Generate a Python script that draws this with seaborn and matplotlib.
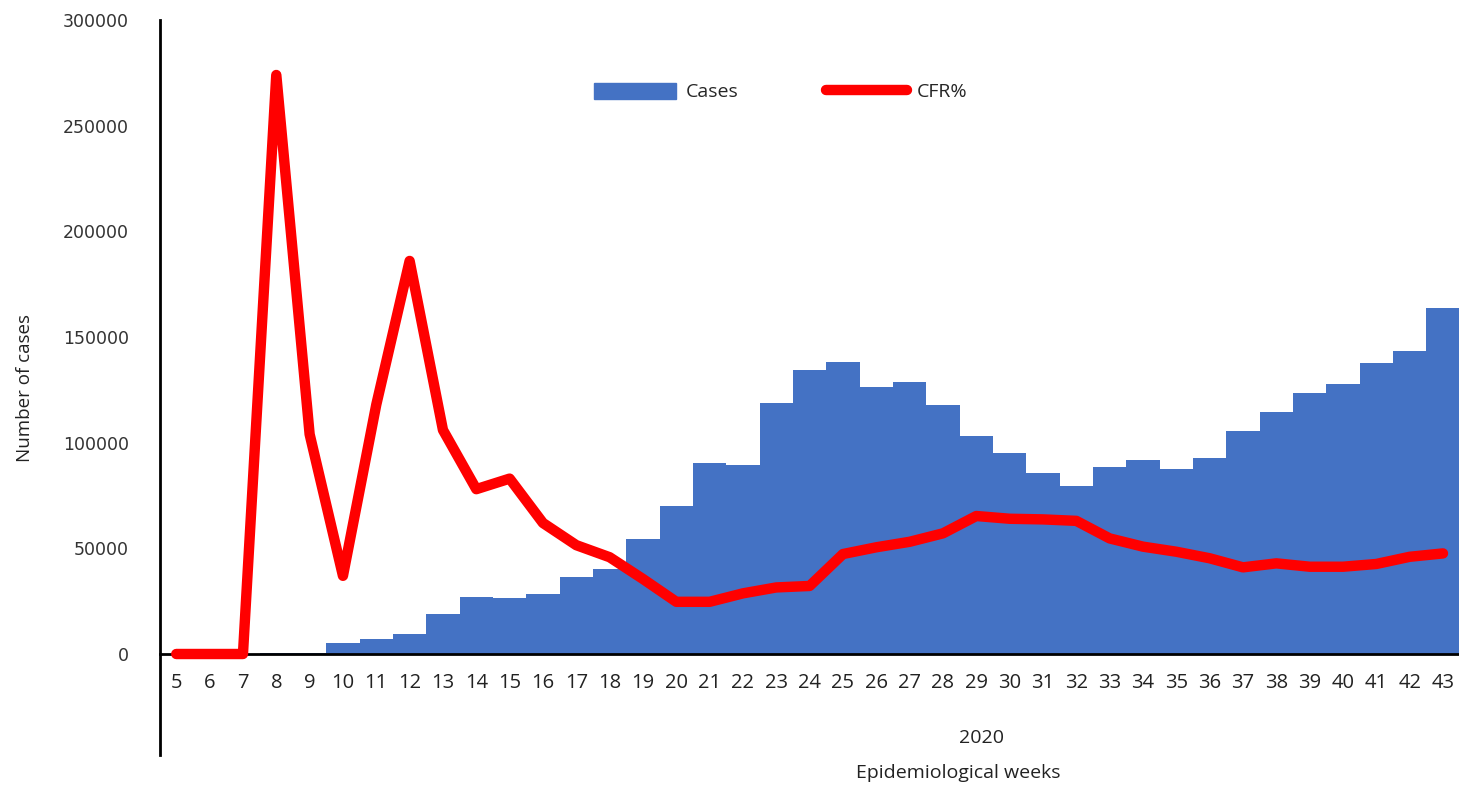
import numpy as np
import pandas as pd
import matplotlib
matplotlib.use("Agg")
import matplotlib.pyplot as plt
import seaborn as sns

# --- Dados ---
weeks = list(range(5, 44))
cases = [50, 80, 120, 250, 600, 5200, 7200, 9500, 18900, 26800, 26300, 28200,
         36300, 40100, 54200, 70100, 90500, 89400, 118600, 134500, 138400,
         126400, 128500, 117800, 103300, 95300, 85500, 79300, 88500, 91900,
         87400, 92600, 105300, 114500, 123600, 127900, 137800, 143300, 163500]
cfr = [0.0, 0.0, 0.0, 27.4, 10.4, 3.7, 11.8, 18.6, 10.6, 7.8, 8.3, 6.2,
       5.15, 4.58, 3.55, 2.47, 2.47, 2.87, 3.15, 3.22, 4.73, 5.05, 5.31,
       5.71, 6.53, 6.4, 6.37, 6.3, 5.47, 5.08, 4.84, 4.53, 4.1, 4.29,
       4.13, 4.13, 4.26, 4.6, 4.76]

BAR_COLOR = "#4472C4"
LINE_COLOR = "#FF0000"

sns.set_theme(style="white")
plt.rcParams['font.family'] = ['Open Sans', 'DejaVu Sans']

fig = plt.figure(figsize=(14.59, 7.92), dpi=100)
ax = fig.add_axes([0.1094, 0.0467, 0.8906, 0.928])

df = pd.DataFrame({"week": [str(w) for w in weeks], "cases": cases})
sns.barplot(data=df, x="week", y="cases", color=BAR_COLOR, width=1.0,
            saturation=1, edgecolor="none", linewidth=0, ax=ax)

ax.set_xlim(-0.5, 38.48)
ax.set_ylim(-47800, 300000)
ax.set_yticks(np.arange(0, 300001, 50000))
ax.set_yticklabels([str(v) for v in range(0, 300001, 50000)],
                   family="DejaVu Sans", fontsize=12.5, color="#333333")
ax.tick_params(axis="y", length=0, pad=22)
ax.tick_params(axis="x", length=0, pad=14, labelsize=14.5, colors="#222222")

for s in ["top", "right"]:
    ax.spines[s].set_visible(False)
ax.spines["left"].set_color("black")
ax.spines["left"].set_linewidth(2)
ax.spines["bottom"].set_position(("data", 0))
ax.spines["bottom"].set_color("black")
ax.spines["bottom"].set_linewidth(2)
ax.set_xlabel("")
ax.set_ylabel("Number of cases", fontsize=13.5, color="#222222")
ax.yaxis.set_label_coords(-0.097, 0.5)

# CFR% no eixo secundário (oculto)
ax2 = ax.twinx()
sns.lineplot(x=np.arange(len(weeks)), y=cfr, ax=ax2, color=LINE_COLOR,
             linewidth=7.5, solid_capstyle="round", solid_joinstyle="round",
             legend=False)
ax2.set_ylim(-4.78, 30)
ax2.set_yticks([])
ax2.set_ylabel("")
for s in ax2.spines.values():
    s.set_visible(False)
ax.set_zorder(ax2.get_zorder() - 1)
ax2.patch.set_visible(False)

# Legenda
h1 = plt.Rectangle((0, 0), 1, 1, color=BAR_COLOR)
h2 = plt.Line2D([0], [0], color=LINE_COLOR, linewidth=7.5, solid_capstyle="round")
fig.legend([h1, h2], ["Cases", "CFR%"], ncol=2, frameon=False, fontsize=14,
           loc="center", bbox_to_anchor=(781 / 1459, 1 - 92 / 792),
           handlelength=4.2, handleheight=0.9, columnspacing=4.5, handletextpad=0.5)

fig.text(982 / 1459, 1 - 738 / 792, "2020", ha="center", va="center",
         fontsize=14, color="#222222")
fig.text(958 / 1459, 1 - 773 / 792, "Epidemiological weeks", ha="center",
         va="center", fontsize=14, color="#222222")

fig.savefig("out.png", dpi=100)
